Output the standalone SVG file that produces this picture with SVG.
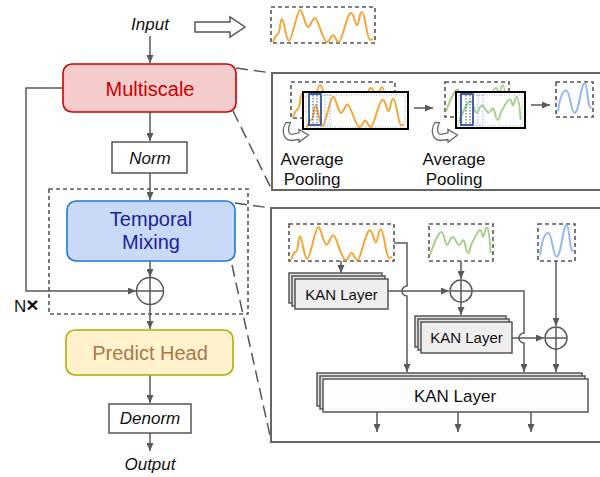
<svg xmlns="http://www.w3.org/2000/svg" xmlns:xlink="http://www.w3.org/1999/xlink" width="600" height="477" viewBox="0 0 600 477">
  <style>
    .t { font-family: "Liberation Sans", Arial, sans-serif; }
    .it { font-style: italic; font-size: 17px; fill: #111; }
    .ln { stroke: #595959; stroke-width: 1.5; fill: none; }
    .arr { marker-end: url(#ah); }
    .dash { stroke: #555; stroke-width: 1.6; stroke-dasharray: 4 3; fill: none; }
    .call { stroke: #555; stroke-width: 1.5; stroke-dasharray: 12 6; fill: none; }
    .panel { stroke: #666; stroke-width: 2; fill: none; }
    .kan { fill: #eeeeee; stroke: #555; stroke-width: 1.5; }
    .kanb { fill: #e2e2e2; stroke: #555; stroke-width: 1.5; }
    .plain { fill: #fff; stroke: #555; stroke-width: 1.5; }
    .plus { fill: #fff; stroke: #595959; stroke-width: 1.5; }
    .win { fill: none; stroke: #2e5597; stroke-width: 1.8; }
    .wdot { stroke: #2e5597; stroke-width: 1; stroke-dasharray: 1.5 1.5; fill: none; }
    .wdot2 { stroke: #8fb0e0; stroke-width: 1; stroke-dasharray: 1.5 1.5; fill: none; }
    .inner { stroke: #b0b0b0; stroke-width: 1; stroke-dasharray: 1 1.5; fill: none; }
    .front { fill: #fff; stroke: #000; stroke-width: 2; }
    .wo { stroke: #f7a436; stroke-width: 2; fill: none; vector-effect: non-scaling-stroke; }
    .wg { stroke: #a8d08d; stroke-width: 2; fill: none; vector-effect: non-scaling-stroke; }
    .wb { stroke: #92b8f2; stroke-width: 2; fill: none; vector-effect: non-scaling-stroke; }
  </style>
  <defs>
    <marker id="ah" markerWidth="8" markerHeight="7" refX="8" refY="3.5" orient="auto" markerUnits="userSpaceOnUse">
      <path d="M0,0 L8,3.5 L0,7 z" fill="#595959"/>
    </marker>
    <!-- series shapes -->
    <symbol id="wave-o" viewBox="0 0 104 36" preserveAspectRatio="none">
      <path class="wo" d="M2,35 C4,30 5,27 7,27 C9,27 9,12 11,12 C13,12 15,34 18,34 C21,34 26,3 29,3 C32,3 34,20 37,20 C40,20 41,11 44,11 C47,11 52,35 56,35 C59,35 60,28 62,28 C64,28 65,35 68,35 C71,35 76,6 80,6 C83,6 84,18 86,18 C88,18 88,5 91,5 C94,5 96,33 99,33 L102,32"/>
    </symbol>
    <symbol id="wave-g" viewBox="0 0 64 37" preserveAspectRatio="none">
      <path class="wg" d="M1,31 C5,20 9,8 12.7,8 C15,8 16,21 18,21 C20,21 21,13 23.7,13 C26,13 28,21 30,21 C32,21 33,16 34.5,16 C36,16 37,29 39.3,29 C41,29 41,22 43,19 C45,15 49,6 51,6 C53,6 53,13 54,13 C55,13 56,3.5 57.7,3.5 C60,3.5 61,20 61.7,29"/>
    </symbol>
    <symbol id="wave-b" viewBox="0 0 37 37" preserveAspectRatio="none">
      <path class="wb" d="M2,31 C4,15 7,9 10.3,9 C14,9 15,32.7 18.7,32.7 C23,32.7 25,1 28.7,1 C31,1 32,24 33.7,26 L35.3,27.7"/>
    </symbol>
    <!-- hollow curved arrow -->
    <symbol id="pool-ico" viewBox="0 0 28 21">
      <path d="M4,0.5 C-0.5,7 0.5,17.5 9,18.5 L17,17.5 L17,20.3 L26.5,13 L17,7.5 L17,10.8 L10,12.3 C6,12.5 5.5,6 8.5,0.5 Z" fill="#fff" stroke="#666" stroke-width="1.3"/>
    </symbol>
  </defs>

  <!-- callout panels -->
  <g id="callouts">
    <path class="call" d="M236,68 L272,73"/>
    <path class="call" d="M233,111 L272,190"/>
    <path class="call" d="M235,203 L271,208"/>
    <path class="call" d="M232,265 L271,440"/>
    <path class="panel" d="M600,73 H272 V190 H600"/>
    <path class="panel" d="M600,208 H271 V442 H600"/>
  </g>

  <!-- connectors -->
  <g id="connectors">
    <path class="ln arr" d="M150,36 V63"/>
    <path class="ln arr" d="M150,112 V141"/>
    <path class="ln arr" d="M150,173 V200"/>
    <path class="ln arr" d="M150,261 V277"/>
    <path class="ln arr" d="M150,304.5 V329"/>
    <path class="ln arr" d="M150,375 V403"/>
    <path class="ln arr" d="M150,433 V451"/>
    <path class="ln arr" d="M63,88 H26 V291 H136"/>
    <!-- KAN mixing panel -->
    <path class="ln arr" d="M341,261 V273"/>
    <path class="ln arr" d="M394,243 H407 V286 A5,5 0 0 0 407,296 V372"/>
    <path class="ln arr" d="M388,291 H449"/>
    <path class="ln arr" d="M461,261 V279"/>
    <path class="ln arr" d="M461,302 V315"/>
    <path class="ln arr" d="M472,291 H524 V333 A5,5 0 0 0 524,343 V372"/>
    <path class="ln arr" d="M512,338 H544"/>
    <path class="ln arr" d="M556,261 V326"/>
    <path class="ln arr" d="M556,349 V372"/>
    <path class="ln arr" d="M377,412 V432"/>
    <path class="ln arr" d="M458,412 V432"/>
    <path class="ln arr" d="M531,412 V432"/>
    <!-- pooling steps -->
    <path class="ln arr" d="M414,108 H433"/>
    <path class="ln arr" d="M531,105 H550"/>
  </g>

  <g id="input">
    <text class="t it" x="150" y="30" text-anchor="middle">Input</text>
    <path d="M195,22 H230 V17 L245,27 L230,37 V32 H195 Z" fill="#fff" stroke="#555" stroke-width="1.5"/>
    <rect class="dash" x="271" y="7" width="104" height="36"/>
    <use href="#wave-o" x="271" y="7" width="104" height="36"/>
  </g>

  <g id="multiscale">
    <rect x="63" y="64" width="173" height="48" rx="9" fill="#f4cccc" stroke="#cc0000" stroke-width="1.6"/>
    <text class="t" x="150" y="96" font-size="20" fill="#cc0000" text-anchor="middle">Multiscale</text>
  </g>

  <g id="norm">
    <rect class="plain" x="112" y="142" width="75" height="31"/>
    <text class="t it" x="150" y="164" text-anchor="middle">Norm</text>
  </g>

  <g id="block">
    <rect class="dash" x="49" y="189" width="199" height="125"/>
    <text class="t" x="14" y="312" font-size="17" fill="#111">N<tspan font-size="21" font-weight="bold">×</tspan></text>
  </g>

  <g id="temporal-mixing">
    <rect x="67" y="201" width="168" height="60" rx="9" fill="#c9daf8" stroke="#1f78d1" stroke-width="1.6"/>
    <text class="t" x="151" y="226" font-size="20" fill="#1d1d9c" text-anchor="middle">Temporal</text>
    <text class="t" x="151" y="249" font-size="20" fill="#1d1d9c" text-anchor="middle">Mixing</text>
  </g>

  <g id="add-main">
    <circle class="plus" cx="150" cy="291" r="13.5"/>
    <path class="ln" d="M136.5,291 H163.5 M150,277.5 V304.5"/>
  </g>

  <g id="predict-head">
    <rect x="66" y="330" width="167" height="45" rx="9" fill="#fff2cc" stroke="#adb000" stroke-width="1.6"/>
    <text class="t" x="150" y="360" font-size="20" fill="#a9774a" text-anchor="middle">Predict Head</text>
  </g>

  <g id="denorm">
    <rect class="plain" x="109" y="404" width="82" height="29"/>
    <text class="t it" x="150" y="424" text-anchor="middle">Denorm</text>
  </g>

  <g id="output">
    <text class="t it" x="150" y="470" text-anchor="middle">Output</text>
  </g>

  <!-- multiscale detail -->
  <g id="pool-1">
    <rect class="dash" x="291" y="82" width="104" height="36"/>
    <use href="#wave-o" x="291" y="82" width="104" height="36"/>
    <rect class="front" x="303" y="92" width="105" height="37"/>
    <rect class="inner" x="306" y="95" width="99" height="32"/>
    <use href="#wave-o" x="305" y="94" width="101" height="34"/>
    <rect class="win" x="309" y="94" width="12" height="31"/>
    <path class="wdot" d="M313,95 V125 M317,95 V125"/>
    <path class="wdot2" d="M321,95 H331 M321,125 H331 M325,95 V125 M330,95 V125"/>
    <use href="#pool-ico" x="282" y="122" width="28" height="21"/>
    <text class="t" x="312" y="165" font-size="17" fill="#111" text-anchor="middle">Average</text>
    <text class="t" x="312" y="185" font-size="17" fill="#111" text-anchor="middle">Pooling</text>
  </g>

  <g id="pool-2">
    <rect class="dash" x="445" y="82" width="64" height="35"/>
    <use href="#wave-g" x="445" y="82" width="64" height="35"/>
    <rect class="front" x="456" y="92" width="69" height="36"/>
    <rect class="inner" x="459" y="95" width="63" height="31"/>
    <use href="#wave-g" x="458" y="94" width="65" height="33"/>
    <rect class="win" x="461" y="94" width="12" height="31"/>
    <path class="wdot" d="M466,95 V125 M470,95 V125"/>
    <path class="wdot2" d="M473,95 H484 M473,125 H484 M478,95 V125 M483,95 V125"/>
    <use href="#pool-ico" x="431" y="122" width="28" height="21"/>
    <text class="t" x="454" y="165" font-size="17" fill="#111" text-anchor="middle">Average</text>
    <text class="t" x="454" y="185" font-size="17" fill="#111" text-anchor="middle">Pooling</text>
  </g>

  <g id="scale-3">
    <rect class="dash" x="556" y="82" width="37" height="35"/>
    <use href="#wave-b" x="556" y="82" width="37" height="35"/>
  </g>

  <!-- temporal mixing detail -->
  <g id="series-1">
    <rect class="dash" x="289" y="224" width="105" height="37"/>
    <use href="#wave-o" x="289" y="224" width="105" height="37"/>
  </g>
  <g id="series-2">
    <rect class="dash" x="429" y="224" width="64" height="37"/>
    <use href="#wave-g" x="429" y="224" width="64" height="37"/>
  </g>
  <g id="series-3">
    <rect class="dash" x="538" y="224" width="37" height="37"/>
    <use href="#wave-b" x="538" y="224" width="37" height="37"/>
  </g>

  <g id="kan-1">
    <rect class="kanb" x="289" y="273" width="93" height="30"/>
    <rect class="kanb" x="292" y="276" width="93" height="30"/>
    <rect class="kan" x="295" y="279" width="93" height="30"/>
    <text class="t" x="341.5" y="300" font-size="15" fill="#111" text-anchor="middle">KAN Layer</text>
  </g>

  <g id="add-1">
    <circle class="plus" cx="461" cy="291" r="11"/>
    <path class="ln" d="M450,291 H472 M461,280 V302"/>
  </g>

  <g id="kan-2">
    <rect class="kanb" x="415" y="316" width="91" height="31"/>
    <rect class="kanb" x="418" y="319" width="91" height="31"/>
    <rect class="kan" x="421" y="322" width="91" height="31"/>
    <text class="t" x="466.5" y="343" font-size="15" fill="#111" text-anchor="middle">KAN Layer</text>
  </g>

  <g id="add-2">
    <circle class="plus" cx="556" cy="338" r="11"/>
    <path class="ln" d="M545,338 H567 M556,327 V349"/>
  </g>

  <g id="kan-3">
    <rect class="kanb" x="317" y="373" width="265" height="33"/>
    <rect class="kanb" x="320" y="376" width="265" height="33"/>
    <rect x="323" y="379" width="265" height="33" fill="#fdfdfd" stroke="#555" stroke-width="1.5"/>
    <text class="t" x="455" y="402" font-size="17" fill="#111" text-anchor="middle">KAN Layer</text>
  </g>
</svg>
